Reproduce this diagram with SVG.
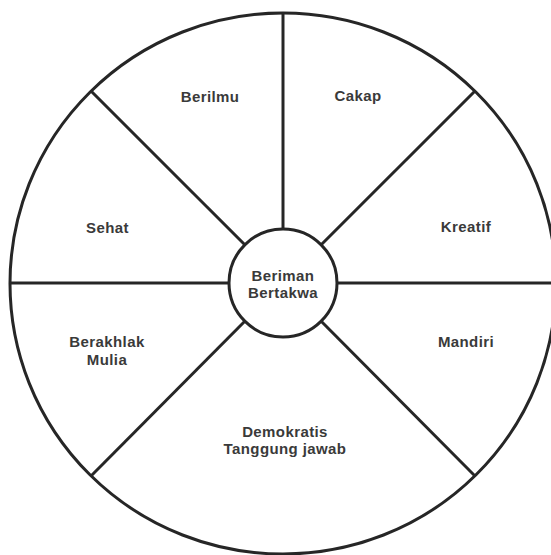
<svg xmlns="http://www.w3.org/2000/svg" width="551" height="555" viewBox="0 0 551 555">
<style>
.ln{stroke:#262626;stroke-width:3;fill:none;stroke-linecap:butt}
.t{font-family:"Liberation Sans",Arial,sans-serif;font-weight:bold;font-size:15px;fill:#3a3a3a;text-anchor:middle;letter-spacing:0.4px}
</style>
<rect width="551" height="555" fill="#ffffff"/>
<g id="outer">
<ellipse class="ln" cx="283" cy="283.5" rx="273" ry="270.5"/>
</g>
<g id="connectors">
<line class="ln" x1="283" y1="13" x2="283" y2="229"/>
<line class="ln" x1="10" y1="283" x2="229" y2="283"/>
<line class="ln" x1="337" y1="283" x2="556" y2="283"/>
<line class="ln" x1="91.5" y1="91.5" x2="244.8" y2="244.8"/>
<line class="ln" x1="474.5" y1="91.5" x2="321.2" y2="244.8"/>
<line class="ln" x1="91.5" y1="475.5" x2="244.8" y2="321.2"/>
<line class="ln" x1="474.5" y1="475.5" x2="321.2" y2="321.2"/>
</g>
<g id="center">
<circle class="ln" cx="283" cy="283" r="54" fill="#fff"/>
<text class="t" x="283" y="281">Beriman</text>
<text class="t" x="283" y="298">Bertakwa</text>
</g>
<g id="berilmu"><text class="t" x="210" y="101.5">Berilmu</text></g>
<g id="cakap"><text class="t" x="358" y="100.5">Cakap</text></g>
<g id="sehat"><text class="t" x="107.5" y="232.5">Sehat</text></g>
<g id="kreatif"><text class="t" x="466" y="231.5">Kreatif</text></g>
<g id="berakhlak"><text class="t" x="107" y="346.5">Berakhlak</text><text class="t" x="107" y="364.5">Mulia</text></g>
<g id="mandiri"><text class="t" x="466" y="346.5">Mandiri</text></g>
<g id="demokratis"><text class="t" x="285" y="436.5">Demokratis</text><text class="t" x="285" y="453.5">Tanggung jawab</text></g>
</svg>
